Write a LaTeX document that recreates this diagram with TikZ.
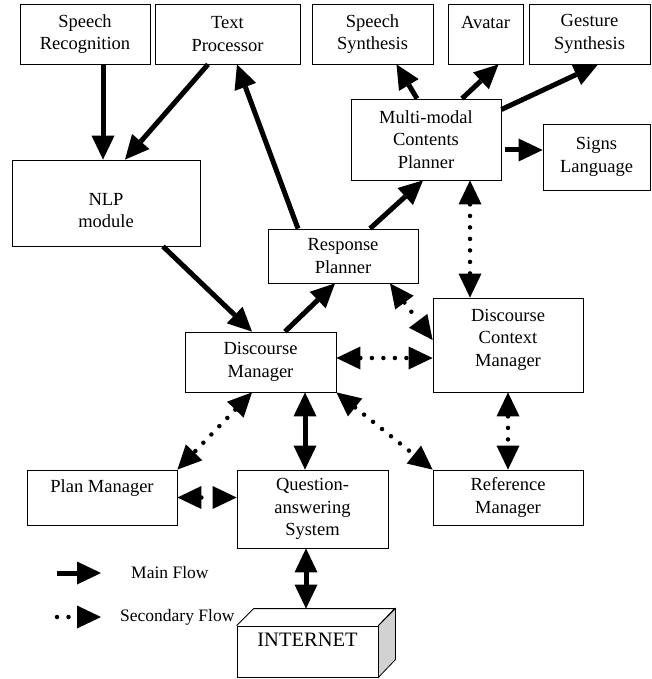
\documentclass[tikz,border=0pt]{standalone}
\usepackage{fontspec}
\setmainfont{Liberation Serif}
\usetikzlibrary{arrows.meta}

\begin{document}
\begin{tikzpicture}[x=1pt, y=-1pt,
    >={Triangle[length=24pt, width=23pt, line width=0pt]},
    module/.style={draw, line width=0.8pt, align=center, inner sep=0pt,
        font=\fontsize{18.5}{22.5}\selectfont},
    mainflow/.style={line width=5pt},
    secflow/.style={line width=4.5pt, line cap=round, dash pattern=on 0pt off 11.5pt},
    legend/.style={inner sep=0pt, font=\fontsize{17.5}{20}\selectfont}]
    \useasboundingbox (0,0) rectangle (651,679);

    \node[module, minimum width=130pt, minimum height=60pt] (sprec) at (85,34) {Speech\\Recognition};
    \node[module, minimum width=145pt, minimum height=60pt] (txtproc) at (227.5,34) {Text\\Processor};
    \node[module, minimum width=121pt, minimum height=60pt] (spsyn) at (372.5,34) {Speech\\Synthesis};
    \node[module, minimum width=75pt, minimum height=60pt] (avatar) at (485.5,34) {Avatar\\\mbox{}};
    \node[module, minimum width=121pt, minimum height=60pt] (gesture) at (589.5,34) {Gesture\\Synthesis};
    \node[module, minimum width=150pt, minimum height=81pt] (mmcp) at (426,139.5) {Multi-modal\\Contents\\Planner};
    \node[module, minimum width=107pt, minimum height=66pt] (signs) at (596.5,157) {Signs\\Language};
    \node[module, minimum width=188pt, minimum height=86pt] (nlp) at (106,203) {\rule{0pt}{27pt}NLP\\module};
    \node[module, minimum width=150pt, minimum height=54pt] (resp) at (343,256) {Response\\Planner};
    \node[module, minimum width=151pt, minimum height=60pt] (dman) at (260.5,362) {Discourse\\Manager};
    \node[module, minimum width=150pt, minimum height=94pt] (dcm) at (508,345) {Discourse\\Context\\Manager\rule[-15pt]{0pt}{0pt}};
    \node[module, minimum width=150pt, minimum height=55pt] (plan) at (102,497.5) {Plan Manager\\\mbox{}};
    \node[module, minimum width=151pt, minimum height=78pt] (qa) at (312.5,509) {Question-\\answering\\System};
    \node[module, minimum width=150pt, minimum height=55pt] (refman) at (508,497.5) {Reference\\Manager};
    \node[module, minimum width=141pt, minimum height=51pt, font=\fontsize{20.5}{23}\selectfont] (inet) at (307.5,651.5) {INTERNET\\\mbox{}};
    \draw[line width=0.8pt] (inet.north west) -- ++(17,-17) -- ++(141,0) -- (inet.north east);
    \filldraw[line width=0.8pt, fill=gray!35] (inet.north east) -- ++(17,-17) -- ++(0,51) -- (inet.south east) -- cycle;

    \draw[mainflow, ->] ([xshift=18pt]sprec.south) -- ([xshift=-3pt]nlp.north);
    \draw[mainflow, ->] ([xshift=-19.5pt]txtproc.south) -- ([xshift=19pt]nlp.north);
    \draw[mainflow, ->] ([xshift=57pt]nlp.south) -- ([xshift=-8.5pt]dman.north);
    \draw[mainflow, ->] ([xshift=24.5pt]dman.north) -- ([xshift=-8pt]resp.south);
    \draw[mainflow, ->] ([xshift=-45pt]resp.north) -- ([xshift=9.5pt]txtproc.south);
    \draw[mainflow, ->] ([xshift=27pt]resp.north) -- ([xshift=-3pt]mmcp.south);
    \draw[mainflow, ->] ([xshift=-9pt]mmcp.north) -- ([xshift=24pt]spsyn.south);
    \draw[mainflow, ->] ([xshift=36pt]mmcp.north) -- ([xshift=13pt]avatar.south);
    \draw[mainflow, ->] ([yshift=30pt]mmcp.east) -- ([xshift=8.5pt]gesture.south);
    \coordinate (mmcpout) at ([xshift=4pt, yshift=-10.5pt]mmcp.east);
    \draw[mainflow, ->] (mmcpout) -- (mmcpout -| signs.west);
    \draw[mainflow, <->] ([xshift=44.5pt]dman.south) -- ([xshift=-7.5pt]qa.north);
    \draw[mainflow, <->] ([xshift=-6.5pt]qa.south) -- ([xshift=-1.5pt, yshift=17pt]inet.north);

    \draw[secflow, <->] ([xshift=44pt]mmcp.south) -- ([xshift=-38pt]dcm.north);
    \draw[secflow, <->] ([xshift=47pt]resp.south) -- ([yshift=5pt]dcm.west);
    \draw[secflow, <->] ([yshift=4pt]dman.east) -- ([yshift=-13pt]dcm.west);
    \draw[secflow, <->] ([xshift=-8.5pt]dman.south) -- (plan.north east);
    \draw[secflow, <->] (dman.south east) -- (refman.north west);
    \draw[secflow, <->] (dcm.south) -- (refman.north);
    \draw[secflow, <->] (plan.east) -- (plan.east -| qa.west);

    \coordinate (mainA) at (57,573);
    \coordinate (mainB) at (101,573);
    \draw[mainflow, ->] (mainA) -- (mainB);
    \node[legend, anchor=west] (mainlbl) at (131,573) {Main Flow};
    \coordinate (secA) at (57,617);
    \coordinate (secB) at (101,617);
    \draw[secflow, ->] (secA) -- (secB);
    \node[legend, anchor=west] (seclbl) at (120,617) {Secondary Flow};
\end{tikzpicture}
\end{document}
